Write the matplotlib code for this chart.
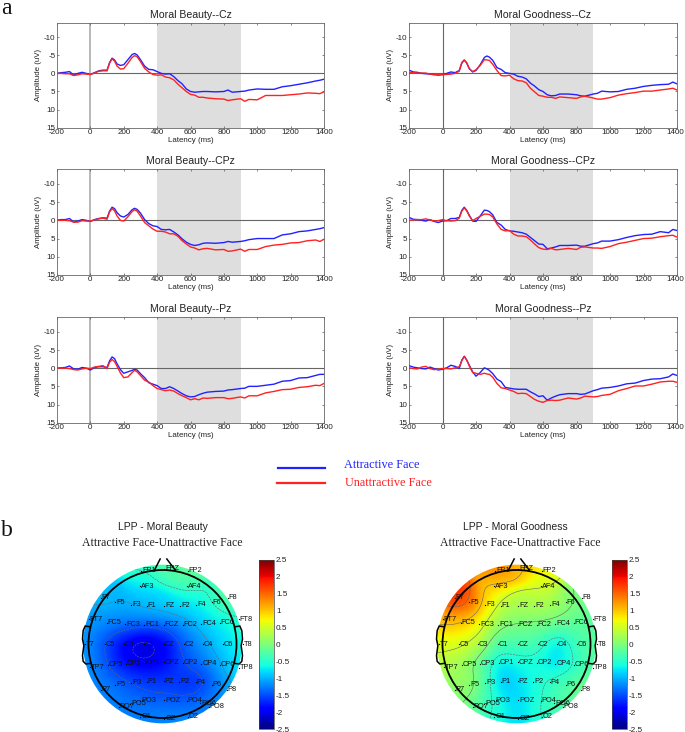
#!/usr/bin/env python3
"""ERP waveforms and LPP scalp maps for moral beauty / moral goodness faces."""

import numpy as np
import matplotlib

matplotlib.use("Agg")
import matplotlib.pyplot as plt
from matplotlib.cm import ScalarMappable
from matplotlib.colors import Normalize
from matplotlib.patches import Circle
from matplotlib.transforms import ScaledTranslation

plt.rcParams["font.family"] = ["Liberation Sans", "DejaVu Sans"]
plt.rcParams["axes.unicode_minus"] = False

W, H = 685, 732

latency = [-200, -175, -150, -125, -100, -75, -50, -25, 0, 25, 50, 75, 100,
           115, 130, 145, 160, 180, 200, 225, 250, 265, 280, 300, 325, 350, 375, 400,
           425, 450, 475, 500, 525, 550, 575, 600,
           625, 650, 675, 700,
           750, 800, 825, 850,
           900, 925, 950, 1000,
           1050, 1100, 1150, 1200, 1250, 1300, 1350, 1375, 1400]

beauty_cz_att = [0, -.2, -.3, -.5, .5, 0, -.3, 0, .3, -.2, -.7, -.9, -.9,
                 -3, -4.2, -3.7, -2.6, -2.2, -2.4, -3.8, -5.2, -5.5, -5.1, -3.8, -2, -1.1, -1, -.5,
                 0, .2, .1, .9, 2, 2.9, 4.3, 5,
                 5.2, 5.1, 5, 5,
                 5.1, 5, 4.6, 5.2,
                 5, 4.9, 4.6, 4.3,
                 4.4, 4.4, 3.7, 3.4, 3, 2.6, 2.1, 1.9, 1.6]
beauty_cz_una = [0, 0, .1, .1, .6, .4, .1, .2, .3, -.1, -.6, -.7, -.7,
                 -2.8, -4, -3.4, -2, -1.2, -1.3, -2.8, -4.4, -4.9, -4.6, -3.3, -1.4, -.4, .3, .5,
                 .4, 1, 1.2, 1.8, 3, 4, 5, 5.8,
                 6, 6.6, 6.6, 6.8,
                 7, 7.1, 7.5, 7.3,
                 7, 7.7, 7.2, 7.3,
                 6.1, 6.1, 6.1, 5.9, 5.7, 5.4, 5.5, 5.6, 5.1]
beauty_cpz_att = [0, -.2, -.2, -.5, .5, .2, -.2, 0, .3, -.2, -.5, -.7, -.6,
                  -2.5, -3.6, -3.2, -2.1, -1.2, -.9, -1.6, -2.9, -3.3, -3, -2, -.2, .9, 1.5, 1.7,
                  2.5, 2.6, 2.5, 3.2, 4, 5.1, 6, 6.6,
                  6.9, 6.7, 6.3, 6.2,
                  6.3, 6.1, 5.8, 6,
                  5.8, 5.6, 5.3, 5,
                  5, 5, 4, 3.7, 3.1, 2.9, 2.5, 2.3, 2]
beauty_cpz_una = [0, 0, 0, .1, .5, .5, .1, .2, .2, -.1, -.4, -.6, -.3,
                  -2.3, -3.2, -2.6, -1.2, 0, .2, -1, -2.4, -2.9, -2.5, -1.2, .6, 1.5, 2.4, 3,
                  3, 3.2, 3.7, 3.7, 4.4, 5.6, 6.5, 7.3,
                  7.6, 8.1, 7.8, 7.7,
                  8.1, 8, 8.5, 8.4,
                  7.9, 8.5, 8, 8,
                  7.2, 6.8, 6.6, 6.2, 6.1, 5.6, 5.4, 5.8, 5.2]
beauty_pz_att = [0, -.1, -.2, -.6, .2, .3, -.2, 0, .5, -.2, -.4, -.4, -.2,
                 -2, -3.1, -2.6, -1.2, .4, 1.4, 1, .6, .3, .5, 1.5, 2.6, 4, 4.4, 4.8,
                 5.6, 5.6, 5.1, 5.6, 6.3, 7, 7.6, 7.9,
                 7.8, 7.3, 6.9, 6.6,
                 6.4, 6.3, 6, 5.9,
                 5.6, 5.5, 5, 5,
                 4.7, 4.4, 3.6, 3.4, 2.7, 2.6, 2, 1.7, 1.7]
beauty_pz_una = [0, 0, 0, .1, .4, .5, .2, 0, .1, -.3, -.5, -.7, .1,
                 -1.6, -2.4, -1.8, -.5, 1.3, 2.6, 2.4, 1.2, .6, 1, 2, 3.3, 3.8, 4.8, 5.6,
                 5.9, 6.2, 6, 6.3, 7, 7.6, 8.1, 8.7,
                 8.4, 8.7, 8.2, 8.3,
                 8.1, 8.1, 8.4, 8.3,
                 7.9, 8.2, 7.6, 7.6,
                 6.8, 6.4, 5.9, 5.8, 5.3, 5.1, 4.7, 4.8, 4.2]
good_cz_att = [-.9, -.4, -.3, 0, .1, .2, .3, .5, .3, 0, -.4, -.2, -.8,
               -2.8, -3.7, -2.8, -1.3, -.4, -.8, -2.4, -4.4, -4.8, -4.5, -3.6, -1.6, -1.1, -.2, 0,
               .2, .8, 1, 1.5, 2.7, 3.5, 4.5, 5,
               5.9, 6.2, 6.1, 5.7,
               5.7, 5.9, 6.2, 6.3,
               5.7, 5.5, 4.9, 5.1,
               5, 4.4, 4.1, 3.6, 3.3, 3.1, 3, 2.4, 2.9]
good_cz_una = [-.2, -.2, -.1, -.1, -.1, .2, .4, .3, .4, .3, .2, 0, -.6,
               -3, -3.7, -2.9, -1.3, -.5, -1, -2.2, -3.8, -3.7, -3.6, -2.5, -.8, .6, .7, .5,
               1.5, 2, 2.1, 2.6, 4.1, 5.1, 6.1, 6.3,
               6.6, 6.6, 6.9, 6.5,
               6.7, 6.9, 6.5, 6.3,
               6.8, 7.1, 7.1, 6.7,
               6, 5.6, 5.3, 4.9, 4.9, 4.6, 4.3, 4.1, 4.6]
good_cpz_att = [-.8, -.3, -.2, 0, .2, -.2, .3, .6, .2, .1, -.5, -.5, -.8,
                -2.7, -3.6, -2.7, -1.4, .2, .3, -1.2, -2.8, -2.7, -2.4, -1.5, .6, 1.3, 2.5, 2.9,
                3, 3.2, 3.4, 3.8, 4.7, 5.6, 6.5, 6.6,
                7.8, 7.6, 7.3, 6.9,
                6.9, 6.8, 7.1, 7.1,
                6.4, 6.2, 5.7, 5.7,
                5.3, 4.7, 4.2, 3.9, 3.8, 3.1, 3.4, 2.5, 2.8]
good_cpz_una = [0, -.1, -.2, -.2, -.4, -.1, .2, .1, -.2, .1, .2, .1, -.6,
                -2.5, -3.4, -2.6, -1.2, .1, -.5, -1.1, -1.7, -1.7, -1.6, -.9, 1, 2.5, 2.9, 2.8,
                3.8, 4.3, 4.3, 4.5, 5.4, 6.5, 7.5, 7.9,
                8, 7.7, 8.1, 8,
                7.7, 8, 7.4, 7.3,
                7.6, 7.6, 7.7, 7.2,
                6.4, 6, 5.5, 5, 4.9, 4.5, 4.2, 4.1, 4.6]
good_pz_att = [-.7, -.3, -.1, .1, .2, -.3, .1, .5, .3, -.1, -.8, -.5, .1,
               -2.2, -3.3, -2.2, -.8, 1, 2.2, 1.2, -.1, .2, .6, 1.5, 3, 3.7, 5.3, 5.5,
               5.7, 5.8, 5.8, 5.8, 6.5, 7.1, 7.8, 7.6,
               8.8, 8.2, 7.7, 7.3,
               7, 7, 7.2, 7.1,
               6.2, 5.9, 5.5, 5.3,
               4.9, 4.3, 4.1, 3.4, 3, 2.9, 2.4, 1.6, 2]
good_pz_una = [-.1, .1, .2, -.3, -.5, .1, .4, .3, .1, .1, .2, -.1, -.4,
               -2, -3.2, -2.2, -.6, 1.2, 1.4, 1.7, 1.4, 1.6, 1.7, 2.5, 4.2, 5.4, 5.6, 6,
               6.4, 7, 6.9, 7, 7.8, 8.6, 9.1, 9.4,
               8.9, 8.8, 8.9, 8.8,
               8.2, 8.5, 8.2, 7.7,
               7.9, 7.8, 7.5, 7.2,
               6.2, 5.6, 4.9, 4.9, 4.4, 3.8, 3.6, 3.6, 3.9]

x_ticks = [-200, 0, 200, 400, 600, 800, 1000, 1200, 1400]
y_ticks = [-10, -5, 0, 5, 10, 15]
cbar_ticks = [2.5, 2, 1.5, 1, .5, 0, -.5, -1, -1.5, -2, -2.5]

channels = ["FP1", "FPZ", "FP2", "AF3", "AF4",
            "F7", "F5", "F3", "F1", "FZ", "F2", "F4", "F6", "F8",
            "FT7", "FC5", "FC3", "FC1", "FCZ", "FC2", "FC4", "FC6", "FT8",
            "T7", "C5", "C3", "C1", "CZ", "C2", "C4", "C6", "T8",
            "TP7", "CP5", "CP3", "CP1", "CPZ", "CP2", "CP4", "CP6", "TP8",
            "P7", "P5", "P3", "P1", "PZ", "P2", "P4", "P6", "P8",
            "PO7", "PO5", "PO3", "POZ", "PO4", "PO6", "PO8", "O1", "OZ", "O2"]
chan_x = [-64, 5, 75, -67, 73,
          -185, -142, -94, -47, 5, 53, 101, 148, 195,
          -222, -167, -112, -55, 3, 60, 116, 171, 228,
          -232, -174, -117, -57, 3, 63, 121, 180, 240,
          -219, -165, -110, -54, 3, 60, 116, 171, 228,
          -185, -142, -94, -47, 3, 50, 100, 148, 193,
          -132, -97, -67, 5, 73, 113, 138, -67, 5, 75]
chan_y = [-219, -225, -219, -173, -173,
          -139, -125, -117, -115, -114, -114, -117, -125, -139,
          -74, -64, -59, -57, -57, -57, -60, -64, -74,
          1, 1, 1, 1, 1, 1, 1, 1, 1,
          70, 63, 59, 56, 55, 56, 59, 63, 72,
          138, 122, 117, 113, 112, 113, 115, 122, 138,
          188, 180, 171, 169, 171, 178, 188, 218, 225, 218]
map_beauty = [-.4, -.3, -.1, -.8, -.4,
              -.9, -1, -1, -.9, -.8, -.8, -.7, -.5, -.1,
              -1.1, -1.2, -1.3, -1.4, -1.4, -1.2, -.9, -.7, -.5,
              -1.1, -1.5, -2, -2.3, -2, -1.4, -1.1, -.8, -.6,
              -1.1, -1.5, -1.9, -2, -1.9, -1.5, -1.3, -1, -.7,
              -1.2, -1.3, -1.5, -1.6, -1.6, -1.6, -1.8, -1.4, -1,
              -1.2, -1.3, -1.4, -1.4, -1.5, -1.4, -1.1, -1.2, -1.2, -1.1]
map_goodness = [1.4, 1.1, .8, .9, .5,
                1.9, 1.6, .9, .3, .3, .3, .3, .1, -.1,
                1.1, 1, .7, 0, -.05, -.1, -.1, -.2, -.2,
                .6, .6, .4, -.3, -.3, -.3, -.9, -.3, -.2,
                .3, .2, -.2, -.8, -.6, -.6, -.9, -.5, -.2,
                0, .3, -.2, -1.1, -.8, -.6, -.4, -.3, 0,
                0, -.3, -.7, -.8, -.6, -.3, -.2, -.6, -.8, -.5]


def px_axes(fig, left, top, right, bottom):
    return fig.add_axes([left / W, 1 - bottom / H, (right - left) / W, (bottom - top) / H])


def draw_erp(fig, box, title, att, una, zero_color, zero_lw, nudge_last=False):
    ax = px_axes(fig, *box)
    ax.axvspan(400, 900, color="#dedede", lw=0, zorder=0)
    ax.axhline(0, color="#666666", lw=0.8, zorder=1)
    ax.axvline(0, color=zero_color, lw=zero_lw, zorder=1)
    ax.plot(latency, att, color="#2222ff", lw=1.0, zorder=2)
    ax.plot(latency, una, color="#ff2222", lw=1.0, zorder=3)
    ax.set_xlim(-200, 1400)
    ax.set_ylim(15, -14)
    ax.set_xticks(x_ticks)
    ax.set_yticks(y_ticks)
    ax.tick_params(direction="in", length=1.5, width=0.5, color="#555555", top=True, right=True,
                   labelsize=5.8, labelcolor="#222222", pad=1)
    for spine in ax.spines.values():
        spine.set_linewidth(0.6)
        spine.set_color("#666666")
    if nudge_last:
        # the last label sits right on the picture edge
        last = ax.get_xticklabels()[-1]
        last.set_transform(last.get_transform() + ScaledTranslation(-1.5 / 100, 0, fig.dpi_scale_trans))
    ax.set_title(title, fontsize=7.6, color="#222222", pad=3.5)
    ax.set_xlabel("Latency (ms)", fontsize=5.7, color="#222222", labelpad=0.5)
    ax.set_ylabel("Amplitude (uV)", fontsize=5.7, color="#222222", labelpad=1.5)


def smooth_field(xs, ys, vals, gx, gy, sigma=34.0):
    # weighted mean of the electrodes, stays flat past the outer ring
    d2 = (gx[..., None] - xs) ** 2 + (gy[..., None] - ys) ** 2
    w = np.exp(-d2 / (2 * sigma ** 2)) + 1e-12
    return (w * vals).sum(axis=-1) / w.sum(axis=-1)


def draw_map(fig, cx, cy, values):
    half = 270
    ax = px_axes(fig, cx - half / 3, cy - half / 3, cx + half / 3, cy + half / 3)
    ax.set_xlim(-half, half)
    ax.set_ylim(half, -half)
    ax.axis("off")

    grid = np.linspace(-half, half, 271)
    gx, gy = np.meshgrid(grid, grid)
    xs, ys = np.array(chan_x, float), np.array(chan_y, float)
    z = smooth_field(xs, ys, np.array(values, float), gx, gy)

    disk = Circle((0, 0), 238, transform=ax.transData)
    im = ax.imshow(z, cmap="jet", vmin=-2.5, vmax=2.5, origin="upper",
                   extent=[-half, half, half, -half], interpolation="bilinear", zorder=1)
    im.set_clip_path(disk)
    ax.set_xlim(-half, half)
    ax.set_ylim(half, -half)
    cs = ax.contour(gx, gy, z, levels=np.arange(-2.5, 2.6, 0.5), colors="#666666",
                    linewidths=0.4, zorder=2)
    cs.set_clip_path(Circle((0, 0), 238, transform=ax.transData))

    ax.add_patch(Circle((0, 0), 222, fill=False, ec="black", lw=1.3, zorder=4))
    ax.plot([-24, -7], [-222, -255], color="black", lw=1.1, zorder=4)
    ax.plot([38, 13], [-222, -255], color="black", lw=1.1, zorder=4)
    ear_x = np.array([220, 232, 238, 240, 236, 240, 238, 230, 216])
    ear_y = np.array([-52, -54, -40, -15, 5, 35, 52, 60, 58])
    ax.plot(ear_x, ear_y, color="black", lw=1.1, zorder=4)
    ax.plot(-ear_x, ear_y, color="black", lw=1.1, zorder=4)

    ax.scatter(xs, ys, s=0.8, color="black", lw=0, zorder=5)
    for name, x, y in zip(channels, xs, ys):
        ax.text(x + 3, y, name, fontsize=5.3, color="#111111", ha="left", va="center", zorder=5,
                clip_on=False)


def draw_cbar(fig, box):
    cax = px_axes(fig, *box)
    sm = ScalarMappable(norm=Normalize(-2.5, 2.5), cmap="jet")
    cb = fig.colorbar(sm, cax=cax)
    cb.set_ticks(cbar_ticks)
    cb.set_ticklabels([f"{t:g}" for t in cbar_ticks])
    cb.ax.tick_params(labelsize=5.9, length=0, pad=1.5, labelcolor="#222222")
    cb.outline.set_linewidth(0.5)
    cb.outline.set_edgecolor("#444444")


def main():
    fig = plt.figure(figsize=(W / 100, H / 100), dpi=100)

    rows = [(22.7, 127.7), (169.3, 275), (317.3, 422.7)]
    names = ["Cz", "CPz", "Pz"]
    beauty = [(beauty_cz_att, beauty_cz_una), (beauty_cpz_att, beauty_cpz_una), (beauty_pz_att, beauty_pz_una)]
    good = [(good_cz_att, good_cz_una), (good_cpz_att, good_cpz_una), (good_pz_att, good_pz_una)]
    for (top, bottom), name, b, g in zip(rows, names, beauty, good):
        draw_erp(fig, (57, top, 324, bottom), f"Moral Beauty--{name}", b[0], b[1], "#b8b8b8", 1.4)
        draw_erp(fig, (409, top, 677, bottom), f"Moral Goodness--{name}", g[0], g[1], "#666666", 0.8,
                 nudge_last=True)

    draw_map(fig, 162.5, 644, map_beauty)
    draw_map(fig, 516.5, 644, map_goodness)
    draw_cbar(fig, (259, 560, 274, 729))
    draw_cbar(fig, (612, 560, 627, 729))

    # labels placed in reference pixel coordinates
    over = fig.add_axes([0, 0, 1, 1], zorder=10)
    over.set_xlim(0, W)
    over.set_ylim(H, 0)
    over.axis("off")
    serif = ["Liberation Serif", "DejaVu Serif"]
    over.text(1, 13.5, "a", family=serif, fontsize=17, va="baseline", color="#111111")
    over.text(1, 536, "b", family=serif, fontsize=17, va="baseline", color="#111111")
    over.plot([278, 325], [468, 468], color="#2222ff", lw=1.6)
    over.plot([277, 325], [483, 483], color="#ff2222", lw=1.6)
    over.text(344, 465, "Attractive Face", family=serif, fontsize=8.8, color="#2222ff", va="center")
    over.text(345, 483, "Unattractive Face", family=serif, fontsize=8.8, color="#ff2222", va="center")
    for x, head in [(163, "LPP - Moral Beauty"), (515, "LPP - Moral Goodness")]:
        over.text(x, 526.5, head, fontsize=7.5, color="#222222", ha="center", va="center")
        over.text(x - 1 if x < 300 else x + 5, 543, "Attractive Face-Unattractive Face", family=serif,
                  fontsize=8.5, color="#222222", ha="center", va="center")

    fig.savefig("out.png", dpi=100)
    plt.close(fig)
    return 0


if __name__ == "__main__":
    raise SystemExit(main())
